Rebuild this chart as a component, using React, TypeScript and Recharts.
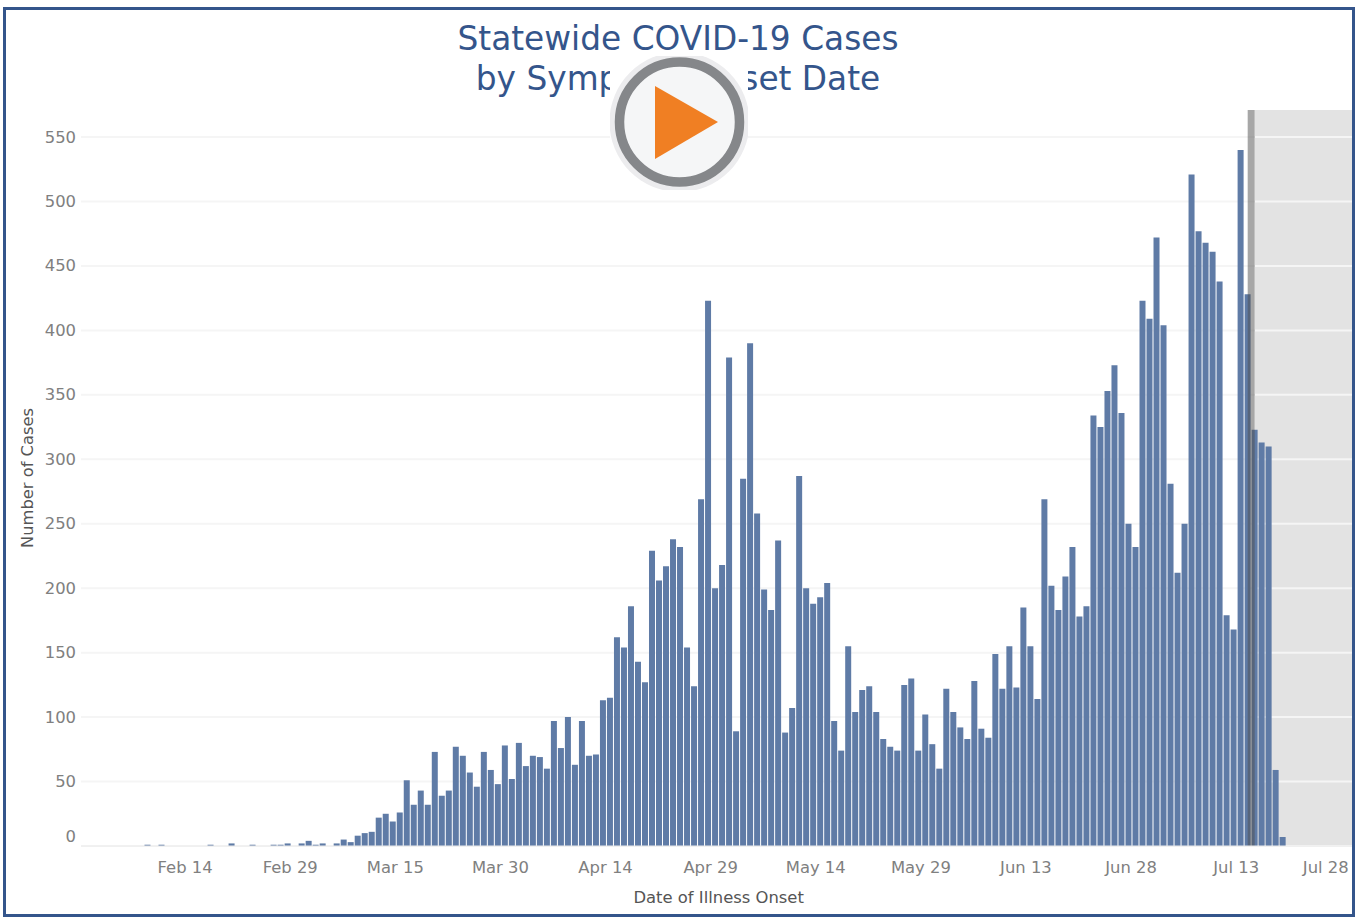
import { BarChart, Bar, XAxis, YAxis, CartesianGrid, ReferenceLine } from "recharts";

const FONT = "'DejaVu Sans', sans-serif";
const NAVY = "#34558b";

// daily counts, the first entry is Jan 31
const cases = [
  0, 0, 0, 0, 0, 0, 0, 0, 0, 1, 0, 1, 0, 0, 0, 0, 0, 0, 1, 0,
  0, 2, 0, 0, 1, 0, 0, 1, 1, 2, 0, 2, 4, 1, 2, 0, 2, 5, 3, 8,
  10, 11, 22, 25, 19, 26, 51, 32, 43, 32, 73, 39, 43, 77, 70, 57, 46, 73, 59, 48,
  78, 52, 80, 62, 70, 69, 60, 97, 76, 100, 63, 97, 70, 71, 113, 115, 162, 154, 186, 143,
  127, 229, 206, 217, 238, 232, 154, 124, 269, 423, 200, 218, 379, 89, 285, 390, 258, 199, 183, 237,
  88, 107, 287, 200, 188, 193, 204, 97, 74, 155, 104, 121, 124, 104, 83, 77, 74, 125, 130, 74,
  102, 79, 60, 122, 104, 92, 83, 128, 91, 84, 149, 122, 155, 123, 185, 155, 114, 269, 202, 183,
  209, 232, 178, 186, 334, 325, 353, 373, 336, 250, 232, 423, 409, 472, 404, 281, 212, 250, 521, 477,
  468, 461, 438, 179, 168, 540, 428, 323, 313, 310, 59, 7,
];

const dayCount = 182;
const days = Array.from({ length: dayCount }, (_, i) =>
  new Date(2020, 0, 31 + i).toLocaleDateString("en-US", { month: "short", day: "numeric" })
);
const dateTicks = ["Feb 14", "Feb 29", "Mar 15", "Mar 30", "Apr 14", "Apr 29", "May 14", "May 29", "Jun 13", "Jun 28", "Jul 13", "Jul 28"];
const countTicks = [0, 50, 100, 150, 200, 250, 300, 350, 400, 450, 500, 550];

const data = days.map((day, i) => ({ day, cases: cases[i] }));

function DateTick({ x, y, payload }: any) {
  // the last label is pulled back inside the frame
  const nudge = payload.value === "Jul 28" ? -13 : 2.5;
  return (
    <text x={x + nudge} y={y} dy={18} textAnchor="middle" fontFamily={FONT} fontSize={16.4} fill="#808080">
      {payload.value}
    </text>
  );
}

function CountTick({ x, y, payload }: any) {
  return (
    <text x={x + 3} y={payload.value === 0 ? y - 10 : y} dy={5.5} textAnchor="end" fontFamily={FONT} fontSize={16.4} fill="#808080">
      {payload.value}
    </text>
  );
}

function PlayButton() {
  return (
    <svg width={138} height={134} viewBox="0 0 138 134" style={{ position: "absolute", left: 610, top: 56, background: "#fff" }}>
      <circle cx={69.5} cy={66} r={70} fill="#ececee" />
      <circle cx={69.5} cy={66} r={60} fill="#f5f6f7" stroke="#85878a" strokeWidth={9.5} />
      <path d="M45 30 L108 66 L45 103 Z" fill="#f07f23" />
    </svg>
  );
}

export default function App() {
  return (
    <div style={{ position: "absolute", left: 0, top: 0, width: 1355, height: 917, overflow: "hidden", background: "#fff" }}>
      {/* grey "recent days" region sits under the transparent chart so grid and bars draw over it */}
      <div style={{ position: "absolute", left: 1255, top: 110, width: 100, height: 736, background: "#e3e3e3" }} />
      <div style={{ position: "absolute", left: 0, top: 0 }}>
        <BarChart width={1357} height={917} data={data} margin={{ top: 110, right: 0.7, bottom: 0, left: 0 }} barCategoryGap="6%">
          <CartesianGrid vertical={false} stroke="#f5f5f5" strokeWidth={2} horizontalValues={countTicks} />
          <XAxis
            dataKey="day"
            ticks={dateTicks}
            interval={0}
            tick={<DateTick />}
            tickLine={false}
            tickMargin={3}
            axisLine={{ stroke: "#ececec" }}
            height={71}
            label={{ value: "Date of Illness Onset", position: "insideBottom", offset: 14, fontFamily: FONT, fontSize: 16.4, fill: "#555" }}
          />
          <YAxis
            domain={[0, 571]}
            ticks={countTicks}
            interval={0}
            width={81}
            tick={<CountTick />}
            tickLine={false}
            tickMargin={2}
            axisLine={false}
            label={{ value: "Number of Cases", angle: -90, position: "insideLeft", offset: 27, textAnchor: "middle", fontFamily: FONT, fontSize: 16.3, fill: "#555" }}
          />
          <Bar dataKey="cases" fill="#5f7ba6" isAnimationActive={false} />
          <ReferenceLine x="Jul 15" position="end" stroke="#505050" strokeOpacity={0.5} strokeWidth={7} />
        </BarChart>
      </div>
      <div style={{ position: "absolute", left: 378, width: 600, top: 19, textAlign: "center", fontFamily: FONT, fontSize: 32.8, lineHeight: "40px", color: NAVY }}>
        Statewide COVID-19 Cases
        <br />
        by Symptom Onset Date
      </div>
      <PlayButton />
      <div style={{ position: "absolute", left: 3, top: 7, right: 0, bottom: 0, border: `3.5px solid ${NAVY}`, boxSizing: "border-box" }} />
    </div>
  );
}
